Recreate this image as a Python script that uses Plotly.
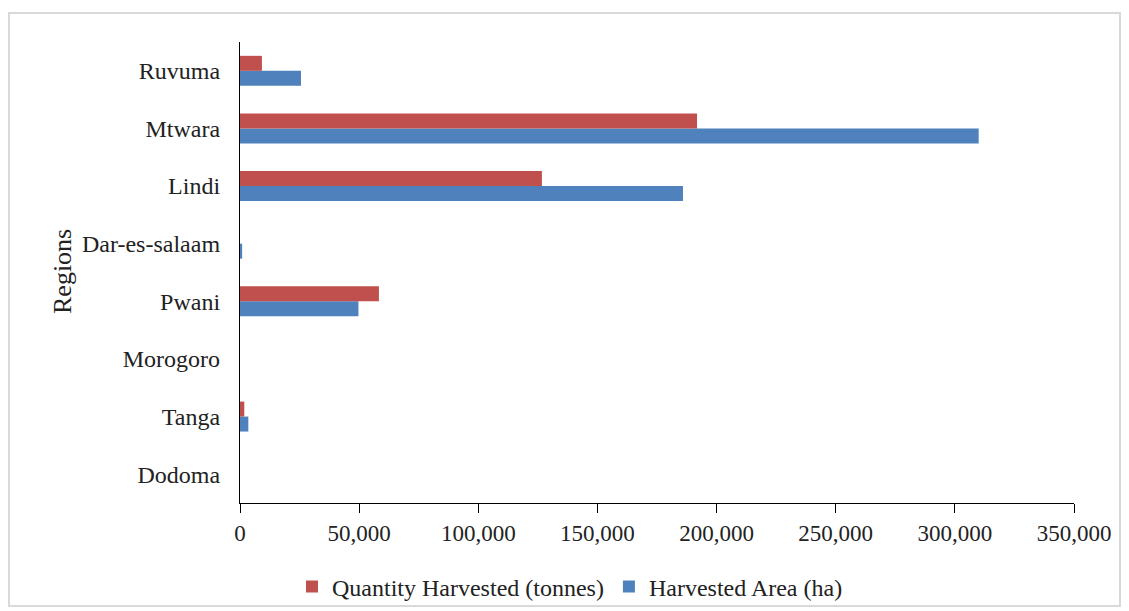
import plotly.graph_objects as go

regions = ["Dodoma", "Tanga", "Morogoro", "Pwani", "Dar-es-salaam", "Lindi", "Mtwara", "Ruvuma"]
quantity_tonnes = [0, 1800, 0, 58300, 0, 126700, 191800, 9200]
area_ha = [0, 3500, 0, 49700, 900, 185900, 310000, 25600]
x_ticks = [0, 50000, 100000, 150000, 200000, 250000, 300000, 350000]

FONT = "Liberation Serif"
# page has an 8px body margin; the figure is sized to fit the window
OFF = 8
W, H = 1129 - OFF, 611 - OFF
L, R, T, B = 240 - OFF, 55, 42 - OFF, 108
PW = W - L - R
PH = H - T - B


def px_x(x):  # reference pixel x -> paper coord
    return (x - OFF - L) / PW


def px_y(y):  # reference pixel y -> paper coord
    return (T + PH - (y - OFF)) / PH


fig = go.Figure()
fig.add_trace(go.Bar(
    y=regions, x=area_ha, orientation="h", name="Harvested Area (ha)",
    marker=dict(color="#4F81BD", line=dict(width=0)),
    legendrank=2,
))
fig.add_trace(go.Bar(
    y=regions, x=quantity_tonnes, orientation="h", name="Quantity Harvested (tonnes)",
    marker=dict(color="#C0504D", line=dict(width=0)),
    legendrank=1,
))

fig.update_layout(
    width=W, height=H,
    barmode="group", bargap=0.48, bargroupgap=0,
    paper_bgcolor="white", plot_bgcolor="white",
    margin=dict(l=L, r=R, t=T, b=B, autoexpand=False),
    font=dict(family=FONT, size=24, color="#222222"),
    showlegend=True,
    legend=dict(orientation="h", x=px_x(570), xanchor="center",
                y=px_y(587), yanchor="middle",
                bgcolor="rgba(0,0,0,0)",
                font=dict(family=FONT, size=24), traceorder="normal",
                itemwidth=30),
    xaxis=dict(range=[0, 350000], tickvals=x_ticks,
               ticktext=[f"{v:,}" for v in x_ticks], automargin=False,
               showgrid=False, zeroline=False, showline=True, linecolor="black", linewidth=1.3,
               ticks="outside", ticklen=9, tickcolor="black",
               tickfont=dict(family=FONT, size=23)),
    yaxis=dict(showgrid=False, zeroline=False, showline=True, linecolor="black", linewidth=1.3,
               ticks="", ticklabelstandoff=14, automargin=False,
               tickfont=dict(family=FONT, size=24)),
    annotations=[dict(text="Regions", xref="paper", yref="paper",
                      x=px_x(62), y=px_y(272), textangle=-90,
                      showarrow=False, xanchor="center", yanchor="middle",
                      font=dict(family=FONT, size=26, color="#222222"))],
    shapes=[dict(type="rect", xref="paper", yref="paper",
                 x0=px_x(9), x1=px_x(1120),
                 y0=px_y(606), y1=px_y(13),
                 line=dict(color="#D9D9D9", width=2), layer="below")],
)

fig.write_html("out.html")
